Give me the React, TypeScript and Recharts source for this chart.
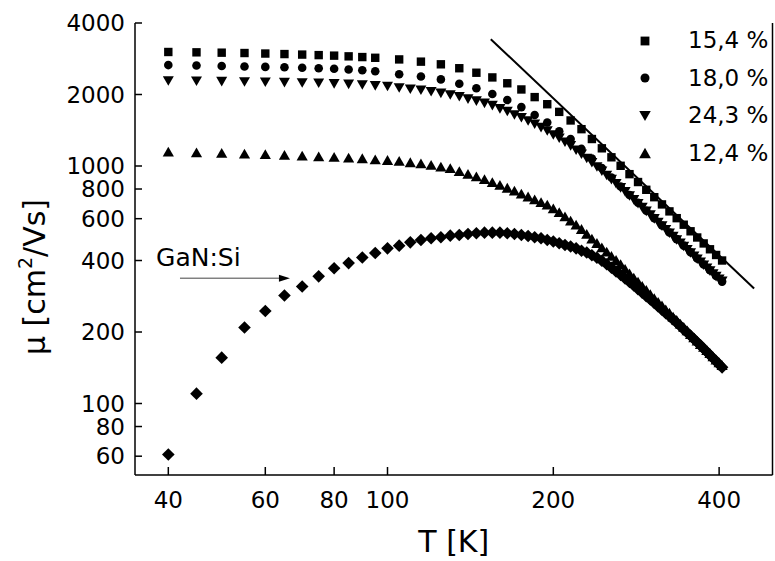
import React from "react";
import { ScatterChart, Scatter, XAxis, YAxis, ReferenceLine, ReferenceDot } from "recharts";

// temperatures (K)
const T_SPARSE = [40, 45, 50, 55, 60, 65, 70, 75, 80, 85, 90, 95, 105, 115, 125, 135, 145, 155, 165, 175, 185, 195, 205, 215, 225, 235, 245, 255, 265, 275, 285, 295, 305, 315, 325, 335, 345, 355, 365, 375, 385, 395, 405];
const T_DENSE = [40, 45, 50, 55, 60, 65, 70, 75, 80, 85, 90, 95, 100, 105, 110, 115, 120, 125, 130, 135, 140, 145, 150, 155, 160, 165, 170, 175, 180, 185, 190, 195, 200, 205, 210, 215, 220, 225, 230, 235, 240, 245, 250, 255, 260, 265, 270, 275, 280, 285, 290, 295, 300, 305, 310, 315, 320, 325, 330, 335, 340, 345, 350, 355, 360, 365, 370, 375, 380, 385, 390, 395, 400, 405];

// mobility (cm2/Vs)
const MU_154 = [3020, 3010, 3000, 2990, 2975, 2960, 2945, 2930, 2915, 2895, 2875, 2855, 2810, 2750, 2680, 2580, 2470, 2360, 2230, 2100, 1950, 1820, 1690, 1555, 1429, 1299, 1187, 1088, 1002, 924, 856, 794, 739, 689, 644, 603, 566, 531, 500, 472, 446, 422, 400];
const MU_180 = [2660, 2648, 2636, 2625, 2614, 2603, 2592, 2580, 2566, 2550, 2530, 2505, 2435, 2380, 2315, 2220, 2125, 2010, 1895, 1770, 1640, 1525, 1400, 1300, 1180, 1075, 980, 895, 820, 755, 700, 648, 603, 562, 525, 492, 462, 433, 408, 385, 364, 344, 326];
const MU_243 = [2281, 2274, 2266, 2259, 2251, 2244, 2237, 2229, 2218, 2207, 2192, 2174, 2160, 2130, 2105, 2085, 2055, 2021, 1990, 1958, 1912, 1875, 1835, 1795, 1740, 1695, 1640, 1596, 1546, 1498, 1451, 1404, 1351, 1308, 1258, 1215, 1165, 1120, 1075, 1032, 990, 950, 912, 876, 842, 809, 778, 748, 720, 693, 668, 644, 621, 599, 578, 558, 539, 521, 504, 488, 473, 458, 444, 430, 417, 405, 393, 382, 371, 361, 351, 342, 333, 327];
const MU_124 = [1150, 1142, 1135, 1128, 1121, 1114, 1106, 1098, 1092, 1085, 1078, 1067, 1060, 1050, 1037, 1026, 1010, 994, 979, 951, 927, 905, 880, 855, 832, 810, 788, 765, 744, 724, 705, 687, 663, 640, 614, 589, 566, 543, 518, 495, 474, 454, 436, 418, 402, 386, 369, 353, 339, 326, 313, 301, 289, 278, 268, 259, 249, 241, 232, 225, 217, 210, 203, 196, 190, 184, 178, 173, 168, 163, 158, 153, 149, 145];
const MU_GAN = [61, 110, 156, 209, 245, 285, 311, 343, 371, 390, 412, 430, 450, 462, 477, 488, 496, 501, 509, 512, 517, 521, 524, 524, 524, 521, 517, 512, 507, 501, 496, 488, 481, 473, 465, 458, 450, 440, 432, 421, 411, 399, 386, 373, 360, 348, 336, 325, 314, 303, 293, 283, 274, 265, 256, 248, 240, 233, 226, 219, 212, 205, 199, 193, 187, 181, 176, 170, 165, 160, 155, 151, 146, 142];

// straight line T^-n
const FIT_T = [154, 463];
const FIT_MU = [3420, 305];

const X_TICKS = [40, 60, 80, 100, 200, 400];
const Y_TICKS = [60, 80, 100, 200, 400, 600, 800, 1000, 2000, 4000];
const LEGEND_NAMES = ["15,4 %", "18,0 %", "24,3 %", "12,4 %"];
const LEGEND_KINDS = ["square", "circle", "down", "up"];

const X_DOMAIN = [34.8, 500];
const Y_DOMAIN = [50, 4000];

const pts = (ts: number[], mus: number[]) => ts.map((T, i) => ({ T, mu: mus[i] }));

const FONT = "DejaVu Sans";

function Marker({ cx, cy, kind, s = 1 }: { cx: number; cy: number; kind: string; s?: number }) {
  if (cx == null || cy == null) return <g />;
  if (kind === "square") {
    const h = 4.2 * s;
    return <rect x={cx - h} y={cy - h} width={2 * h} height={2 * h} fill="#000" />;
  }
  if (kind === "circle") return <circle cx={cx} cy={cy} r={4.3 * s} fill="#000" />;
  if (kind === "down") {
    const w = 5.5 * s, h = 4.8 * s;
    return <polygon points={`${cx - w},${cy - h} ${cx + w},${cy - h} ${cx},${cy + h}`} fill="#000" />;
  }
  if (kind === "up") {
    const w = 5.6 * s, h = 4.9 * s;
    return <polygon points={`${cx - w},${cy + h} ${cx + w},${cy + h} ${cx},${cy - h}`} fill="#000" />;
  }
  const d = 6.3 * s;
  return <polygon points={`${cx - d},${cy} ${cx},${cy - d} ${cx + d},${cy} ${cx},${cy + d}`} fill="#000" />;
}

const shapeOf = (kind: string) => (p: any) => <Marker cx={p.cx} cy={p.cy} kind={kind} />;

function YLabel() {
  return (
    <text transform="translate(45, 277) rotate(-90)" textAnchor="middle" fontSize={30} fontFamily={FONT} fill="#000">
      μ [cm
      <tspan fontSize={19} dy={-13}>2</tspan>
      <tspan dy={13}>/Vs]</tspan>
    </text>
  );
}

export default function App() {
  const axisStyle = { stroke: "#000", strokeWidth: 1.5 };
  const tickFont = { fontSize: 23, fontFamily: FONT, fill: "#000" };
  return (
    <div style={{ position: "absolute", left: 0, top: 0, width: 775, height: 561, background: "#fff" }}>
      <ScatterChart width={775} height={561} margin={{ top: 23, right: 0, bottom: 0, left: 0 }}>
        <XAxis
          xAxisId="b"
          dataKey="T"
          type="number"
          scale="log"
          domain={X_DOMAIN}
          allowDataOverflow
          ticks={X_TICKS}
          interval={0}
          height={86}
          tickSize={-8}
          tickMargin={25}
          axisLine={axisStyle}
          tickLine={axisStyle}
          tick={tickFont}
          label={{ value: "T [K]", position: "insideBottom", offset: 9, fontSize: 30, fontFamily: FONT, fill: "#000" }}
        />
        <XAxis
          xAxisId="t"
          orientation="top"
          dataKey="T"
          type="number"
          scale="log"
          domain={X_DOMAIN}
          allowDataOverflow
          ticks={X_TICKS}
          interval={0}
          height={0}
          tickSize={3}
          tick={false}
          axisLine={axisStyle}
          tickLine={axisStyle}
        />
        <YAxis
          yAxisId="l"
          dataKey="mu"
          type="number"
          scale="log"
          domain={Y_DOMAIN}
          allowDataOverflow
          ticks={Y_TICKS}
          interval={0}
          width={135}
          tickSize={-7}
          tickMargin={17}
          axisLine={axisStyle}
          tickLine={axisStyle}
          tick={tickFont}
          label={{ content: () => <YLabel /> }}
        />
        <YAxis
          yAxisId="r"
          orientation="right"
          dataKey="mu"
          type="number"
          scale="log"
          domain={Y_DOMAIN}
          allowDataOverflow
          ticks={Y_TICKS}
          interval={0}
          width={2.5}
          tickSize={3}
          tick={false}
          axisLine={axisStyle}
          tickLine={axisStyle}
        />

        <Scatter xAxisId="b" yAxisId="l" data={pts(FIT_T, FIT_MU)} line={{ stroke: "#000", strokeWidth: 2 }} lineType="joint" shape={() => <g />} isAnimationActive={false} />
        <Scatter xAxisId="b" yAxisId="l" name="15,4 %" data={pts(T_SPARSE, MU_154)} shape={shapeOf("square")} isAnimationActive={false} />
        <Scatter xAxisId="b" yAxisId="l" name="24,3 %" data={pts(T_DENSE, MU_243)} shape={shapeOf("down")} isAnimationActive={false} />
        <Scatter xAxisId="b" yAxisId="l" name="18,0 %" data={pts(T_SPARSE, MU_180)} shape={shapeOf("circle")} isAnimationActive={false} />
        <Scatter xAxisId="b" yAxisId="l" name="12,4 %" data={pts(T_DENSE, MU_124)} shape={shapeOf("up")} isAnimationActive={false} />
        <Scatter xAxisId="b" yAxisId="l" name="GaN:Si" data={pts(T_DENSE, MU_GAN)} shape={shapeOf("diamond")} isAnimationActive={false} />

        {/* GaN:Si annotation */}
        <ReferenceLine xAxisId="b" yAxisId="l" segment={[{ x: 42, y: 337 }, { x: 64, y: 337 }]} stroke="#444" strokeWidth={1} />
        <ReferenceDot
          xAxisId="b"
          yAxisId="l"
          x={66.5}
          y={337}
          shape={(p: any) => (
            <polygon points={`${p.cx},${p.cy} ${p.cx - 11},${p.cy - 3.5} ${p.cx - 11},${p.cy + 3.5}`} fill="#000" />
          )}
        />
        <ReferenceDot
          xAxisId="b"
          yAxisId="l"
          x={38}
          y={378}
          shape={(p: any) => (
            <text x={p.cx} y={p.cy} fontSize={25} fontFamily={FONT} fill="#000">
              GaN:Si
            </text>
          )}
        />
      </ScatterChart>

      {LEGEND_NAMES.map((name, i) => (
        <div
          key={name}
          style={{ position: "absolute", left: 630, top: 22 + i * 37.5, height: 37.5, width: 145, display: "flex", alignItems: "center" }}
        >
          <svg width={30} height={20}>
            <Marker cx={15} cy={10} kind={LEGEND_KINDS[i]} s={1.05} />
          </svg>
          <span style={{ position: "absolute", left: 58, fontSize: 23, fontFamily: FONT, color: "#000", lineHeight: "37.5px", whiteSpace: "nowrap" }}>
            {name}
          </span>
        </div>
      ))}
    </div>
  );
}
